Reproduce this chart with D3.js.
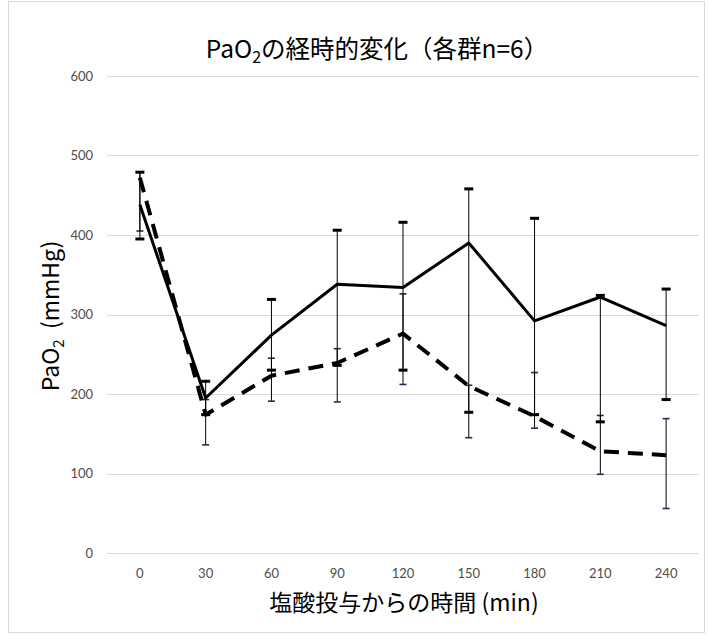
<!DOCTYPE html>
<meta charset="utf-8">
<script src="https://d3js.org/d3.v7.min.js"></script>
<style>
  body { margin: 0; background: #fff; }
</style>
<div id="chart"></div>
<script>

// data
var times = ["0", "30", "60", "90", "120", "150", "180", "210", "240"];

var solidMean = [438, 195, 274, 338, 334, 390, 292, 322, 286];
var solidLow  = [395, 174, 230, 236, 230, 177, 174, 165, 193];
var solidHigh = [479, 216, 319, 406, 416, 458, 421, 324, 332];

var dashMean = [472, 174, 223, 239, 276, 210, 172, 128, 123];
var dashLow  = [405, 136, 191, 190, 212, 145, 157,  99,  56];
var dashHigh = [479, 193, 245, 257, 326, 211, 227, 173, 169];

var yTicks = [0, 100, 200, 300, 400, 500, 600];

var W = 709, H = 636;
var margin = {top: 76, right: 10, bottom: 83, left: 107},
    width = 699 - margin.left,
    height = 553 - margin.top;

var svg = d3.select("#chart")
  .append("svg")
    .attr("width", W)
    .attr("height", H);

// chart border
svg.append("rect")
  .attr("x", 8.5).attr("y", 1.5)
  .attr("width", 696).attr("height", 631)
  .attr("fill", "none")
  .attr("stroke", "#d9d9d9");

var g = svg.append("g")
  .attr("transform", "translate(" + margin.left + "," + margin.top + ")");

var x = d3.scaleBand()
  .domain(times)
  .range([0, width]);

var y = d3.scaleLinear()
  .domain([0, 600])
  .range([height, 0]);

// gridlines
g.selectAll(".grid")
  .data(yTicks)
  .enter().append("line")
    .attr("x1", 0).attr("x2", width)
    .attr("y1", function(d) { return Math.round(y(d)) + 0.5; })
    .attr("y2", function(d) { return Math.round(y(d)) + 0.5; })
    .attr("stroke", "#d9d9d9")
    .attr("stroke-width", 1);

// axes (text only)
var yAxis = g.append("g")
  .call(d3.axisLeft(y).tickValues(yTicks).tickSize(0).tickPadding(14));
var xAxis = g.append("g")
  .attr("transform", "translate(0," + height + ")")
  .call(d3.axisBottom(x).tickSize(0).tickPadding(16));

[xAxis, yAxis].forEach(function(a) {
  a.select(".domain").remove();
  a.selectAll("text")
    .attr("fill", "#4d4d4d")
    .style("font-family", "Lato, 'Liberation Sans', sans-serif")
    .style("font-size", "13px");
});

function cx(i) { return x(times[i]) + x.bandwidth() / 2; }

// error bars
function errorBars(low, high, capW, capH, capColor) {
  var gg = g.append("g");
  gg.selectAll("line.v")
    .data(times)
    .enter().append("line")
      .attr("x1", function(d, i) { return cx(i); })
      .attr("x2", function(d, i) { return cx(i); })
      .attr("y1", function(d, i) { return y(low[i]); })
      .attr("y2", function(d, i) { return y(high[i]); })
      .attr("stroke", "#000")
      .attr("stroke-width", 1);
  var caps = [];
  times.forEach(function(d, i) { caps.push([i, low[i]]); caps.push([i, high[i]]); });
  gg.selectAll("rect.cap")
    .data(caps)
    .enter().append("rect")
      .attr("x", function(d) { return cx(d[0]) - capW / 2; })
      .attr("y", function(d) { return y(d[1]) - capH / 2; })
      .attr("width", capW)
      .attr("height", capH)
      .attr("fill", capColor);
}

errorBars(dashLow, dashHigh, 7, 1.6, "#1f2f55");
errorBars(solidLow, solidHigh, 9, 3, "#000");

var line = d3.line()
  .x(function(d, i) { return cx(i); })
  .y(function(d) { return y(d); });

g.append("path")
  .datum(solidMean)
  .attr("d", line)
  .attr("fill", "none")
  .attr("stroke", "#000")
  .attr("stroke-width", 3)
  .attr("stroke-linejoin", "round");

g.append("path")
  .datum(dashMean)
  .attr("d", line)
  .attr("fill", "none")
  .attr("stroke", "#000")
  .attr("stroke-width", 4)
  .attr("stroke-dasharray", "15,9")
  .attr("stroke-linejoin", "round");

var jp = "'Noto Sans CJK JP', 'Noto Sans', sans-serif";

// title
var title = svg.append("text")
  .attr("x", 377)
  .attr("y", 58)
  .attr("text-anchor", "middle")
  .style("font-family", jp)
  .style("font-size", "24.5px")
  .attr("fill", "#000");
title.append("tspan").text("PaO");
title.append("tspan").attr("dy", 5).style("font-size", "16px").text("2");
title.append("tspan").attr("dy", -5).text("の経時的変化（各群n=6）");

// y label
var yl = svg.append("text")
  .attr("transform", "translate(59,316) rotate(-90)")
  .attr("text-anchor", "middle")
  .style("font-family", jp)
  .style("font-size", "23px")
  .attr("fill", "#000");
yl.append("tspan").text("PaO");
yl.append("tspan").attr("dy", 5).style("font-size", "15px").text("2");
yl.append("tspan").attr("dy", -5).text("\u00a0\u00a0(mmHg)");

// x label
svg.append("text")
  .attr("x", 404)
  .attr("y", 611)
  .attr("text-anchor", "middle")
  .style("font-family", jp)
  .style("font-size", "23px")
  .attr("fill", "#000")
  .text("塩酸投与からの時間 (min)");

</script>
